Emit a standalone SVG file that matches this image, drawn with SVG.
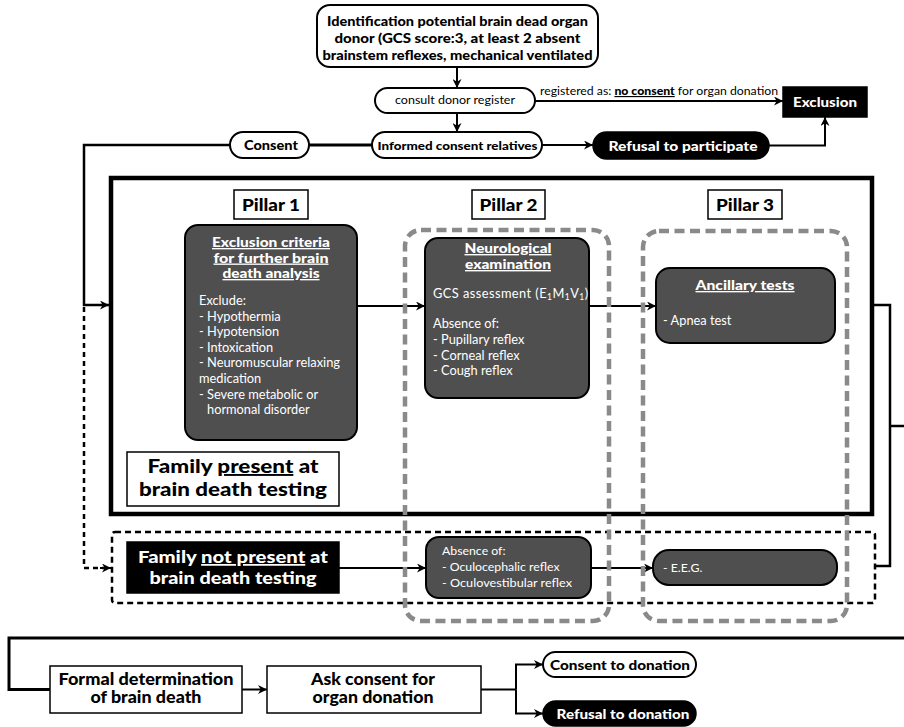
<svg xmlns="http://www.w3.org/2000/svg" width="904" height="727" viewBox="0 0 904 727">
<defs>
<marker id="ah" viewBox="0 0 10 10" refX="10" refY="5" markerWidth="9" markerHeight="9" markerUnits="userSpaceOnUse" orient="auto">
<path d="M0,0 L10,5 L0,10 L3,5 z" fill="#000"/>
</marker>
<style>
text{font-family:"Lato","Open Sans","Liberation Sans",sans-serif;}
.b{font-weight:900;}
.c{text-anchor:middle;}
.wt{fill:#fff;}
.u{text-decoration:underline;}
.line{fill:none;stroke:#000;stroke-width:2;}
.arr{marker-end:url(#ah);}
.pill{fill:#fff;stroke:#000;stroke-width:2;}
.blk{fill:#000;stroke:#000;stroke-width:1.5;}
.dark{fill:#4f4f4f;stroke:#000;stroke-width:2;}
.box{fill:#fff;stroke:#000;stroke-width:1.5;}
.pillar{fill:none;stroke:#8a8a8a;stroke-width:4.5;stroke-dasharray:10 5.5;}
</style>
</defs>
<rect width="904" height="727" fill="#fff"/>

<g id="frame">
<rect x="111" y="178" width="761" height="336" fill="none" stroke="#000" stroke-width="4.5"/>
</g>
<g id="dotted-frame">
<rect x="112" y="532" width="763" height="71" rx="3" fill="none" stroke="#000" stroke-width="2.5" stroke-dasharray="6 4"/>
</g>

<g id="connectors">
<path class="line arr" d="M457,67 V88"/>
<path class="line arr" d="M457,113 V132"/>
<path class="line arr" d="M535,101 H783"/>
<path class="line arr" d="M542,145 H593"/>
<path class="line arr" d="M769,145.5 H825 V117"/>
<path d="M309,145 H372" fill="none" stroke="#000" stroke-width="3"/>
<path class="arr" d="M230,145 H84 V305 H109" fill="none" stroke="#000" stroke-width="2.5"/>
<path d="M84,307 V568 H104" fill="none" stroke="#000" stroke-width="2.5" stroke-dasharray="5 4"/>
<path class="line arr" d="M100,568 H111"/>
<path class="line arr" d="M357,306 H425"/>
<path class="line arr" d="M589,306 H656"/>
<path class="line arr" d="M339,568 H426"/>
<path class="line arr" d="M591,568 H653"/>
<path d="M875,566 H890 V305 H874 M890,426 H904" fill="none" stroke="#000" stroke-width="2.5"/>
<path d="M904,638 H9 V689.5 H50" fill="none" stroke="#000" stroke-width="3"/>
<path class="line arr" d="M242,689.5 H267"/>
<path class="line" d="M481,689.5 H516"/>
<path class="line arr" d="M516,689.5 V664.5 H543"/>
<path class="line arr" d="M516,689.5 V713.5 H543"/>
</g>

<g id="pillar2-region"><rect class="pillar" x="405" y="230" width="204" height="391" rx="16"/></g>
<g id="pillar3-region"><rect class="pillar" x="643" y="231" width="204" height="390" rx="16"/></g>

<g id="identification">
<rect class="pill" x="317" y="5" width="281" height="62" rx="13"/>
<text class="b c" x="457.5" y="26" font-size="13" textLength="261" lengthAdjust="spacingAndGlyphs">Identification potential brain dead organ</text>
<text class="b c" x="457.5" y="43" font-size="13" textLength="246" lengthAdjust="spacingAndGlyphs">donor (GCS score:3, at least 2 absent</text>
<text class="b c" x="457.5" y="60" font-size="13" textLength="270" lengthAdjust="spacingAndGlyphs">brainstem reflexes, mechanical ventilated</text>
</g>

<g id="consult">
<rect class="pill" x="375" y="88" width="160" height="25" rx="12.5"/>
<text class="c" x="455" y="104" font-size="12.3" textLength="120" lengthAdjust="spacingAndGlyphs">consult donor register</text>
</g>

<g id="register-label">
<text x="540" y="95" font-size="11.5" textLength="238" lengthAdjust="spacingAndGlyphs">registered as: <tspan class="b u">no consent</tspan> for organ donation</text>
</g>

<g id="exclusion">
<rect class="blk" x="783" y="87" width="84" height="30"/>
<text class="b c wt" x="825" y="107" font-size="14" textLength="64" lengthAdjust="spacingAndGlyphs">Exclusion</text>
</g>

<g id="consent">
<rect class="pill" x="230" y="132" width="79" height="26" rx="13"/>
<text class="b c" x="271" y="150" font-size="13.5" textLength="54" lengthAdjust="spacingAndGlyphs">Consent</text>
</g>

<g id="informed">
<rect class="pill" x="372" y="132" width="170" height="26" rx="13"/>
<text class="b c" x="457.5" y="149.5" font-size="12" textLength="160" lengthAdjust="spacingAndGlyphs">Informed consent relatives</text>
</g>

<g id="refusal-participate">
<rect class="blk" x="593" y="132" width="176" height="27" rx="13.5"/>
<text class="b c wt" x="683" y="151" font-size="14" textLength="149" lengthAdjust="spacingAndGlyphs">Refusal to participate</text>
</g>

<g id="pillar1-label">
<rect class="box" x="234" y="190" width="74" height="29"/>
<text class="b c" x="271" y="210.5" font-size="16" textLength="58" lengthAdjust="spacingAndGlyphs">Pillar 1</text>
</g>
<g id="pillar2-label">
<rect class="box" x="472" y="190" width="73" height="29"/>
<text class="b c" x="508.5" y="210.5" font-size="16" textLength="58" lengthAdjust="spacingAndGlyphs">Pillar 2</text>
</g>
<g id="pillar3-label">
<rect class="box" x="708" y="190" width="74" height="29"/>
<text class="b c" x="745" y="210.5" font-size="16" textLength="58" lengthAdjust="spacingAndGlyphs">Pillar 3</text>
</g>

<g id="exclusion-criteria">
<rect class="dark" x="185" y="225" width="172" height="215" rx="13"/>
<text class="b c wt u" x="271" y="247" font-size="13.5" textLength="118" lengthAdjust="spacingAndGlyphs">Exclusion criteria</text>
<text class="b c wt u" x="271" y="262.5" font-size="13.5" textLength="115" lengthAdjust="spacingAndGlyphs">for further brain</text>
<text class="b c wt u" x="271" y="278" font-size="13.5" textLength="97" lengthAdjust="spacingAndGlyphs">death analysis</text>
<text class="wt" x="199" y="305" font-size="12.8">Exclude:</text>
<text class="wt" x="199" y="320.6" font-size="12.8">- Hypothermia</text>
<text class="wt" x="199" y="336.2" font-size="12.8">- Hypotension</text>
<text class="wt" x="199" y="351.8" font-size="12.8">- Intoxication</text>
<text class="wt" x="199" y="367.4" font-size="12.8" textLength="141" lengthAdjust="spacingAndGlyphs">- Neuromuscular relaxing</text>
<text class="wt" x="199" y="383" font-size="12.8">medication</text>
<text class="wt" x="199" y="398.6" font-size="12.8">- Severe metabolic or</text>
<text class="wt" x="207" y="414.2" font-size="12.8">hormonal disorder</text>
</g>

<g id="neurological">
<rect class="dark" x="425" y="238" width="164" height="160" rx="13"/>
<text class="b c wt u" x="508" y="253" font-size="14" textLength="87" lengthAdjust="spacingAndGlyphs">Neurological</text>
<text class="b c wt u" x="508" y="269" font-size="14" textLength="86" lengthAdjust="spacingAndGlyphs">examination</text>
<text class="wt" x="433" y="298" font-size="12.8" letter-spacing="0.45">GCS assessment (E<tspan font-size="8.5" baseline-shift="-2">1</tspan>M<tspan font-size="8.5" baseline-shift="-2">1</tspan>V<tspan font-size="8.5" baseline-shift="-2">1</tspan>)</text>
<text class="wt" x="433" y="328" font-size="12.8">Absence of:</text>
<text class="wt" x="433" y="344" font-size="12.8">- Pupillary reflex</text>
<text class="wt" x="433" y="359.5" font-size="12.8">- Corneal reflex</text>
<text class="wt" x="433" y="375" font-size="12.8">- Cough reflex</text>
</g>

<g id="ancillary">
<rect class="dark" x="656" y="268" width="179" height="75" rx="14"/>
<text class="b c wt u" x="745" y="290" font-size="13.5" textLength="99" lengthAdjust="spacingAndGlyphs">Ancillary tests</text>
<text class="wt" x="663" y="325" font-size="12.8">- Apnea test</text>
</g>

<g id="family-present">
<rect class="box" x="127" y="452" width="212" height="54"/>
<text class="b c" x="233" y="473" font-size="19" textLength="171" lengthAdjust="spacingAndGlyphs">Family <tspan class="u">present</tspan> at</text>
<text class="b c" x="233" y="496" font-size="19" textLength="188" lengthAdjust="spacingAndGlyphs">brain death testing</text>
</g>

<g id="family-not-present">
<rect class="blk" x="127" y="542" width="212" height="51"/>
<text class="b c wt" x="233" y="563" font-size="17.5" textLength="190" lengthAdjust="spacingAndGlyphs">Family <tspan class="u">not present</tspan> at</text>
<text class="b c wt" x="233" y="584" font-size="17.5" textLength="167" lengthAdjust="spacingAndGlyphs">brain death testing</text>
</g>

<g id="absence-oculo">
<rect class="dark" x="426" y="537" width="165" height="61" rx="13"/>
<text class="wt" x="442" y="555" font-size="12.3">Absence of:</text>
<text class="wt" x="442" y="571" font-size="12.3">- Oculocephalic reflex</text>
<text class="wt" x="442" y="587" font-size="12.3" textLength="130" lengthAdjust="spacingAndGlyphs">- Oculovestibular reflex</text>
</g>

<g id="eeg">
<rect class="dark" x="653" y="550" width="184" height="35" rx="16"/>
<text class="wt" x="663" y="572" font-size="12.3">- E.E.G.</text>
</g>

<g id="formal">
<rect class="box" x="50" y="666" width="192" height="47"/>
<text class="b c" x="146" y="685" font-size="16" textLength="175" lengthAdjust="spacingAndGlyphs">Formal determination</text>
<text class="b c" x="146" y="703" font-size="16" textLength="111" lengthAdjust="spacingAndGlyphs">of brain death</text>
</g>

<g id="ask-consent">
<rect class="box" x="267" y="666" width="214" height="47"/>
<text class="b c" x="373" y="685" font-size="16" textLength="124" lengthAdjust="spacingAndGlyphs">Ask consent for</text>
<text class="b c" x="373" y="703" font-size="16" textLength="121" lengthAdjust="spacingAndGlyphs">organ donation</text>
</g>

<g id="consent-donation">
<rect class="pill" x="543" y="652" width="153" height="25" rx="12.5"/>
<text class="b c" x="620" y="669.5" font-size="14" textLength="140" lengthAdjust="spacingAndGlyphs">Consent to donation</text>
</g>

<g id="refusal-donation">
<rect class="blk" x="543" y="701" width="153" height="25" rx="12.5"/>
<text class="b c wt" x="623" y="718.5" font-size="14" textLength="133" lengthAdjust="spacingAndGlyphs">Refusal to donation</text>
</g>
</svg>
